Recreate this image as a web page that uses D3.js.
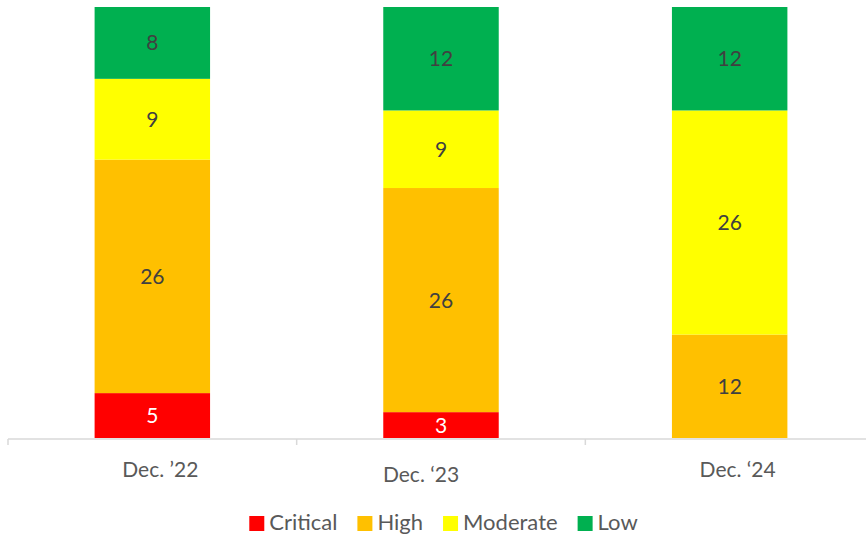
<!DOCTYPE html>
<html><head><meta charset="utf-8">
<script src="https://cdn.jsdelivr.net/npm/d3@7"></script>
<style>
html,body{margin:0;padding:0;background:#fff;}
svg{display:block;font-family:Lato,"Open Sans",sans-serif;}
</style></head>
<body>
<svg id="c" width="866" height="534"></svg>
<script>
const categories = ["Dec. ’22", "Dec. ‘23", "Dec. ‘24"];
const seriesNames = ["Critical", "High", "Moderate", "Low"];
const critical = [5, 3, 0];
const high = [26, 26, 12];
const moderate = [9, 9, 26];
const low = [8, 12, 12];
const colors = ["#FF0000", "#FFC000", "#FFFF00", "#00B050"];

const svg = d3.select("#c");
const W = 866, H = 534;
const x = d3.scaleBand().domain(categories).range([8, 874]).paddingInner(0.6).paddingOuter(0.3);
const y = d3.scaleLinear().domain([0, 1]).range([438, 7]);

const rows = categories.map((c, i) => ({cat: c, Critical: critical[i], High: high[i], Moderate: moderate[i], Low: low[i]}));
rows.forEach(r => { r.total = seriesNames.reduce((s, k) => s + r[k], 0); });
const stack = d3.stack().keys(seriesNames).value((d, k) => d[k] / d.total);
const layers = stack(rows);

const g = svg.append("g");
layers.forEach((layer, li) => {
  const lg = g.append("g");
  lg.selectAll("rect").data(layer).join("rect")
    .attr("x", d => x(d.data.cat))
    .attr("width", x.bandwidth())
    .attr("y", d => y(d[1]))
    .attr("height", d => Math.max(0, y(d[0]) - y(d[1])))
    .attr("fill", colors[li]);
  lg.selectAll("text").data(layer.filter(d => d.data[layer.key] > 0)).join("text")
    .attr("x", d => x(d.data.cat) + x.bandwidth() / 2)
    .attr("y", d => (y(d[0]) + y(d[1])) / 2)
    .attr("dy", "0.36em")
    .attr("text-anchor", "middle")
    .attr("font-size", 21)
    .attr("fill", layer.key === "Critical" ? "#FFFFFF" : "#404040")
    .text(d => d.data[layer.key]);
});

// axis line and ticks between categories
const step = x.step();
const axisY = 439;
svg.append("line").attr("x1", 8).attr("x2", W).attr("y1", axisY).attr("y2", axisY)
  .attr("stroke", "#D9D9D9").attr("stroke-width", 1.5);
const tickXs = categories.map(c => x(c) + x.bandwidth() / 2 - step / 2);
tickXs.push(x(categories[categories.length - 1]) + x.bandwidth() / 2 + step / 2);
svg.selectAll("line.tick").data(tickXs).join("line").attr("class", "tick")
  .attr("x1", d => d).attr("x2", d => d).attr("y1", axisY).attr("y2", axisY + 6)
  .attr("stroke", "#D9D9D9").attr("stroke-width", 1.5);

// category labels (nudges mimic original text alignment)
const nudgeX = [8, -20, 8];
const nudgeY = [0, 5, 0];
svg.selectAll("text.cat").data(categories).join("text").attr("class", "cat")
  .attr("x", (d, i) => x(d) + x.bandwidth() / 2 + nudgeX[i])
  .attr("y", (d, i) => 477 + nudgeY[i])
  .attr("text-anchor", "middle")
  .attr("font-size", 21)
  .attr("fill", "#595959")
  .text(d => d);

// legend
const lg = svg.append("g");
const items = lg.selectAll("g").data(seriesNames).join("g");
items.append("rect").attr("width", 15).attr("height", 15).attr("y", 516)
  .attr("fill", (d, i) => colors[i]);
items.append("text").attr("x", 20).attr("y", 530)
  .attr("font-size", 22).attr("fill", "#595959").text(d => d);
let widths = [];
items.each(function () { widths.push(20 + d3.select(this).select("text").node().getComputedTextLength()); });
const gap = 20;
const total = d3.sum(widths) + gap * (widths.length - 1);
let cx = 443.5 - total / 2;
items.each(function (d, i) { d3.select(this).attr("transform", `translate(${cx},0)`); cx += widths[i] + gap; });
</script>
</body></html>
